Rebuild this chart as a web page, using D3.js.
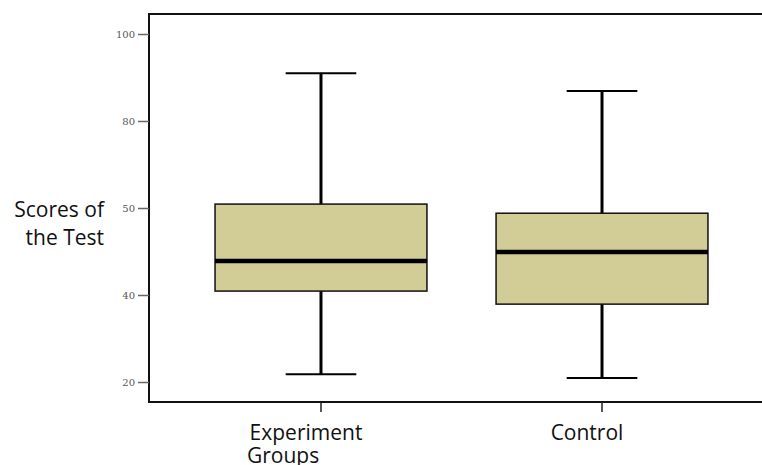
<!DOCTYPE html>
<html>
<head>
<meta charset="utf-8">
<script src="https://cdn.jsdelivr.net/npm/d3@7"></script>
<style>
  body { margin: 0; background: #fff; }
  svg { display: block; }
</style>
</head>
<body>
<div id="chart"></div>
<script>
'use strict'

const groups = ['Experiment', 'Control']
const whiskerHigh = [91.0, 86.9]
const q3 = [60.9, 58.8]
const median = [47.8, 49.9]
const q1 = [40.9, 37.9]
const whiskerLow = [21.8, 20.9]
const yTicks = [20, 40, 60, 80, 100]
const yTickLabels = ['20', '40', '50', '80', '100']

const width = 762,
		height = 465

const svg = d3.select('#chart').append('svg')
	.attr('width', width)
	.attr('height', height)

const y = d3.scaleLinear().domain([20, 100]).range([382, 34])
const x = d3.scaleBand().domain(groups)
	.range([149, 774])
	.paddingInner(0.246)
	.paddingOuter(0.235)

const plotTop = 14, plotBottom = 402

// frame
svg.append('rect')
	.attr('x', 149).attr('y', plotTop)
	.attr('width', 640).attr('height', plotBottom - plotTop)
	.attr('fill', 'none')
	.attr('stroke', '#111')
	.attr('stroke-width', 2)

// y axis
const yAxis = svg.append('g')
	.attr('transform', 'translate(149,0)')
	.call(d3.axisLeft(y).tickValues(yTicks)
		.tickFormat((d, i) => yTickLabels[i])
		.tickSize(11).tickPadding(3))
yAxis.select('.domain').remove()
yAxis.selectAll('line').attr('stroke', '#666').attr('stroke-width', 1.5)
yAxis.selectAll('text')
	.attr('fill', '#555')
	.style('font-family', '"DejaVu Serif", serif')
	.style('font-size', '10px')

// x axis ticks
const xAxis = svg.append('g')
	.attr('transform', `translate(0,${plotBottom})`)
	.call(d3.axisBottom(x).tickSize(10).tickFormat(''))
xAxis.select('.domain').remove()
xAxis.selectAll('line').attr('stroke', '#222').attr('stroke-width', 1.5)

const data = groups.map((g, i) => ({
	g, hi: whiskerHigh[i], q3: q3[i], med: median[i], q1: q1[i], lo: whiskerLow[i]
}))

const bw = x.bandwidth()
const box = svg.append('g').selectAll('g')
	.data(data)
	.enter().append('g')
	.attr('transform', d => `translate(${x(d.g)},0)`)

box.append('line')
	.attr('x1', bw / 2).attr('x2', bw / 2)
	.attr('y1', d => y(d.hi)).attr('y2', d => y(d.lo))
	.attr('stroke', '#000').attr('stroke-width', 3)

box.append('line')
	.attr('x1', bw / 3).attr('x2', bw * 2 / 3)
	.attr('y1', d => y(d.hi)).attr('y2', d => y(d.hi))
	.attr('stroke', '#000').attr('stroke-width', 2)

box.append('line')
	.attr('x1', bw / 3).attr('x2', bw * 2 / 3)
	.attr('y1', d => y(d.lo)).attr('y2', d => y(d.lo))
	.attr('stroke', '#000').attr('stroke-width', 2)

box.append('rect')
	.attr('x', 0).attr('width', bw)
	.attr('y', d => y(d.q3))
	.attr('height', d => y(d.q1) - y(d.q3))
	.attr('fill', '#d2cc96')
	.attr('stroke', '#111')
	.attr('stroke-width', 1.5)

box.append('line')
	.attr('x1', 0).attr('x2', bw)
	.attr('y1', d => y(d.med)).attr('y2', d => y(d.med))
	.attr('stroke', '#000').attr('stroke-width', 4.5)

// labels
const labelFont = '"Open Sans", "Noto Sans", sans-serif'
svg.selectAll('.xlab')
	.data(groups)
	.enter().append('text')
	.attr('class', 'xlab')
	.attr('x', d => x(d) + bw / 2 - 15)
	.attr('y', 440)
	.attr('text-anchor', 'middle')
	.style('font-family', labelFont)
	.style('font-size', '21px')
	.attr('fill', '#111')
	.text(d => d)

svg.append('text')
	.attr('x', 247).attr('y', 463)
	.style('font-family', labelFont)
	.style('font-size', '21px')
	.attr('fill', '#111')
	.text('Groups')

svg.append('text')
	.attr('text-anchor', 'end')
	.style('font-family', labelFont)
	.style('font-size', '21px')
	.attr('fill', '#111')
	.selectAll('tspan')
	.data(['Scores of', 'the Test'])
	.enter().append('tspan')
	.attr('x', 104)
	.attr('y', (d, i) => 217 + i * 28)
	.text(d => d)
</script>
</body>
</html>
